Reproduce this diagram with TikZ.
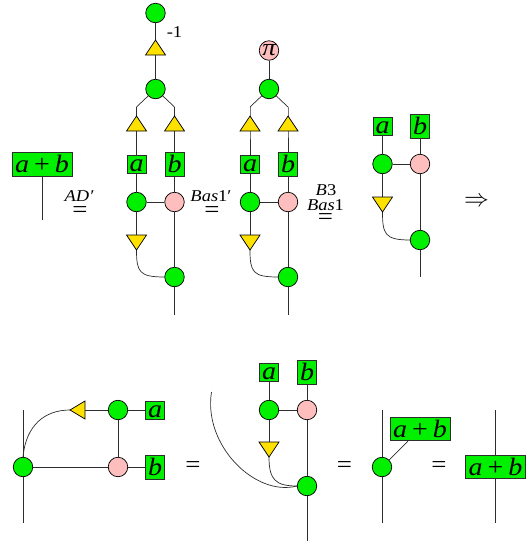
\documentclass[tikz,border=0pt]{standalone}
\usepackage{fontspec}
\setmainfont[FakeStretch=1.12]{Liberation Serif}
\usetikzlibrary{backgrounds}
\definecolor{gr}{RGB}{0,240,0}
\definecolor{pk}{RGB}{255,190,190}
\definecolor{yl}{RGB}{255,225,0}
\definecolor{ln}{RGB}{45,45,45}
\newcommand{\apb}{\itshape a\hspace{.2em}\normalfont+\hspace{.2em}\itshape b}
\newcommand{\triup}[3]{\coordinate (#1) at (#2,#3);\draw[tri] (#2-10,#3+7) -- (#2,#3-8) -- (#2+10,#3+7) -- cycle;}
\newcommand{\tridn}[3]{\coordinate (#1) at (#2,#3);\draw[tri] (#2-10,#3-8) -- (#2+10,#3-8) -- (#2,#3+7) -- cycle;}
\tikzset{
 wire/.style={draw=ln,line width=.9pt},
 thinwire/.style={draw=ln,line width=.7pt},
 gc/.style={circle,draw=black,fill=gr,line width=.7pt,minimum size=19.5pt,inner sep=0pt},
 pc/.style={circle,draw=black,fill=pk,line width=.7pt,minimum size=19.5pt,inner sep=0pt,font=\fontsize{24}{24}\selectfont\itshape},
 tri/.style={draw=black,fill=yl,line width=.7pt,line join=miter},
 boxa/.style={draw=ln,fill=gr,line width=.9pt,inner sep=0pt,text width=19pt,align=center,text height=16pt,text depth=2pt,font=\fontsize{25}{25}\selectfont\itshape},
 boxb/.style={boxa,text height=20pt,text depth=4pt},
 boxs/.style={draw=ln,fill=gr,line width=.9pt,inner sep=0pt,text width=60pt,align=center,text height=20pt,text depth=3.5pt,font=\fontsize{25}{25}\selectfont},
 lab/.style={inner sep=0pt,font=\fontsize{16.5}{16.5}\selectfont},
 eq/.style={inner sep=0pt,font=\fontsize{24}{24}\selectfont},
}
\begin{document}
\begin{tikzpicture}[x=1pt,y=-1pt]
\path[use as bounding box] (0,0) rectangle (531,550);
% --- first
\coordinate (e1) at (42,220);
\node[boxs] (s1) at (42,164.5) {\apb};
\node[lab] (l1) at (79,196) {\itshape AD′};
\node[eq] (q1) at (80,212.5) {=};
% --- second
\coordinate (e2) at (174.5,315);
\coordinate (k2a) at (136.5,107);
\coordinate (k2b) at (174.5,107);
\node[gc] (g20) at (155.5,13) {};
\node[gc] (g21) at (155.5,89) {};
\node[gc] (g22) at (136.5,202) {};
\node[pc] (p2) at (174.5,202) {};
\node[gc] (g23) at (174.5,277) {};
\triup{t2o}{155.5}{48}
\triup{t2a}{136.5}{124}
\triup{t2b}{174.5}{124}
\tridn{t2d}{136.5}{243}
\node[boxa] (a2) at (136.5,164) {a};
\node[boxb] (b2) at (174.5,164) {b};
\node[lab] (m1) at (174.5,32) {-1};
\node[lab] (l2) at (211,196) {\itshape Bas\normalfont 1′};
\node[eq] (q2) at (212,212.5) {=};
% --- third
\coordinate (e3) at (288,315);
\coordinate (k3a) at (250,107);
\coordinate (k3b) at (288,107);
\node[pc] (p30) at (269,50.5) {π};
\node[gc] (g31) at (269,89) {};
\node[gc] (g32) at (250,202) {};
\node[pc] (p3) at (288,202) {};
\node[gc] (g33) at (288,277) {};
\triup{t3a}{250}{124}
\triup{t3b}{288}{124}
\tridn{t3d}{250}{243}
\node[boxa] (a3) at (250,164) {a};
\node[boxb] (b3) at (288,164) {b};
\node[lab] (l3a) at (326,190) {\itshape B\normalfont 3};
\node[lab] (l3b) at (325.5,205) {\itshape Bas\normalfont 1};
\node[eq] (q3) at (325.5,219.5) {=};
% --- fourth
\coordinate (e4) at (420,277);
\node[boxa] (a4) at (382.5,126) {a};
\node[boxb] (b4) at (420,126) {b};
\node[gc] (g41) at (382.5,164) {};
\node[pc] (p4) at (420,164) {};
\node[gc] (g42) at (420,240) {};
\tridn{t4d}{382.5}{205}
\node[inner sep=0pt,font=\fontsize{23}{23}\selectfont] (imp) at (476.5,202) {$\Rightarrow$};
% --- bottom left
\coordinate (e5t) at (23,410);
\coordinate (e5b) at (23,523);
\coordinate (t5) at (78,410);
\node[gc] (g51) at (23,467) {};
\node[gc] (g52) at (118,410) {};
\node[pc] (p5) at (118,467) {};
\node[boxa] (a5) at (155,410) {a};
\node[boxb] (b5) at (155,467) {b};
\draw[tri] (70,410) -- (85,401) -- (85,419) -- cycle;
\node[eq] (q5) at (193,467.5) {=};
% --- bottom middle
\coordinate (e6) at (307,541);
\coordinate (c6) at (211.5,392);
\node[boxa] (a6) at (269,372) {a};
\node[boxb] (b6) at (307,372) {b};
\node[gc] (g61) at (269,410) {};
\node[pc] (p6) at (307,410) {};
\node[gc] (g62) at (307,486) {};
\tridn{t6d}{269}{450}
\node[eq] (q6) at (344.5,467.5) {=};
% --- bottom right
\coordinate (e7t) at (382,410);
\coordinate (e7b) at (382,523);
\node[gc] (g7) at (382,467) {};
\node[boxs] (s7) at (420,429) {\apb};
\node[eq] (q7) at (439,467.5) {=};
\coordinate (e8t) at (495.5,410);
\coordinate (e8b) at (495.5,523);
\node[boxs] (s8) at (495.5,467) {\apb};
% --- connectors
\begin{pgfonlayer}{background}
\draw[wire] (s1) -- (e1);
\draw[wire] (g20) -- (t2o) -- (g21);
\draw[thinwire] (g21) -- (k2a);
\draw[thinwire] (g21) -- (k2b);
\draw[wire] (k2a) -- (t2a) -- (a2) -- (g22);
\draw[wire] (k2b) -- (t2b) -- (b2) -- (p2);
\draw[wire] (g22) -- (p2);
\draw[wire] (g22) -- (t2d);
\draw[wire] (p2) -- (g23) -- (e2);
\draw[thinwire] (t2d) ++(0,7) .. controls +(0,22) and +(-25,0) .. (g23.west);
\draw[wire] (p30) -- (g31);
\draw[thinwire] (g31) -- (k3a);
\draw[thinwire] (g31) -- (k3b);
\draw[wire] (k3a) -- (t3a) -- (a3) -- (g32);
\draw[wire] (k3b) -- (t3b) -- (b3) -- (p3);
\draw[wire] (g32) -- (p3);
\draw[wire] (g32) -- (t3d);
\draw[wire] (p3) -- (g33) -- (e3);
\draw[thinwire] (t3d) ++(0,7) .. controls +(0,22) and +(-25,0) .. (g33.west);
\draw[wire] (a4) -- (g41) -- (t4d);
\draw[wire] (b4) -- (p4) -- (g42) -- (e4);
\draw[wire] (g41) -- (p4);
\draw[thinwire] (t4d) ++(0,7) .. controls +(0,22) and +(-25,0) .. (g42.west);
\draw[wire] (e5t) -- (g51) -- (e5b);
\draw[wire] (g51) -- (p5) -- (b5);
\draw[wire] (g52) -- (p5);
\draw[wire] (t5) -- (g52) -- (a5);
\draw[thinwire] (g51.north) .. controls +(3,-32) and +(-25,0) .. (70,410);
\draw[wire] (a6) -- (g61) -- (t6d);
\draw[wire] (b6) -- (p6) -- (g62) -- (e6);
\draw[wire] (g61) -- (p6);
\draw[thinwire] (t6d) ++(0,7) .. controls +(0,22) and +(-22,0) .. (g62.west);
\draw[thinwire] (c6) .. controls (203,445) and (255,497) .. (g62.west);
\draw[wire] (e7t) -- (g7) -- (e7b);
\draw[thinwire] (g7) -- (408,441);
\draw[wire] (e8t) -- (e8b);
\end{pgfonlayer}
\end{tikzpicture}
\end{document}
